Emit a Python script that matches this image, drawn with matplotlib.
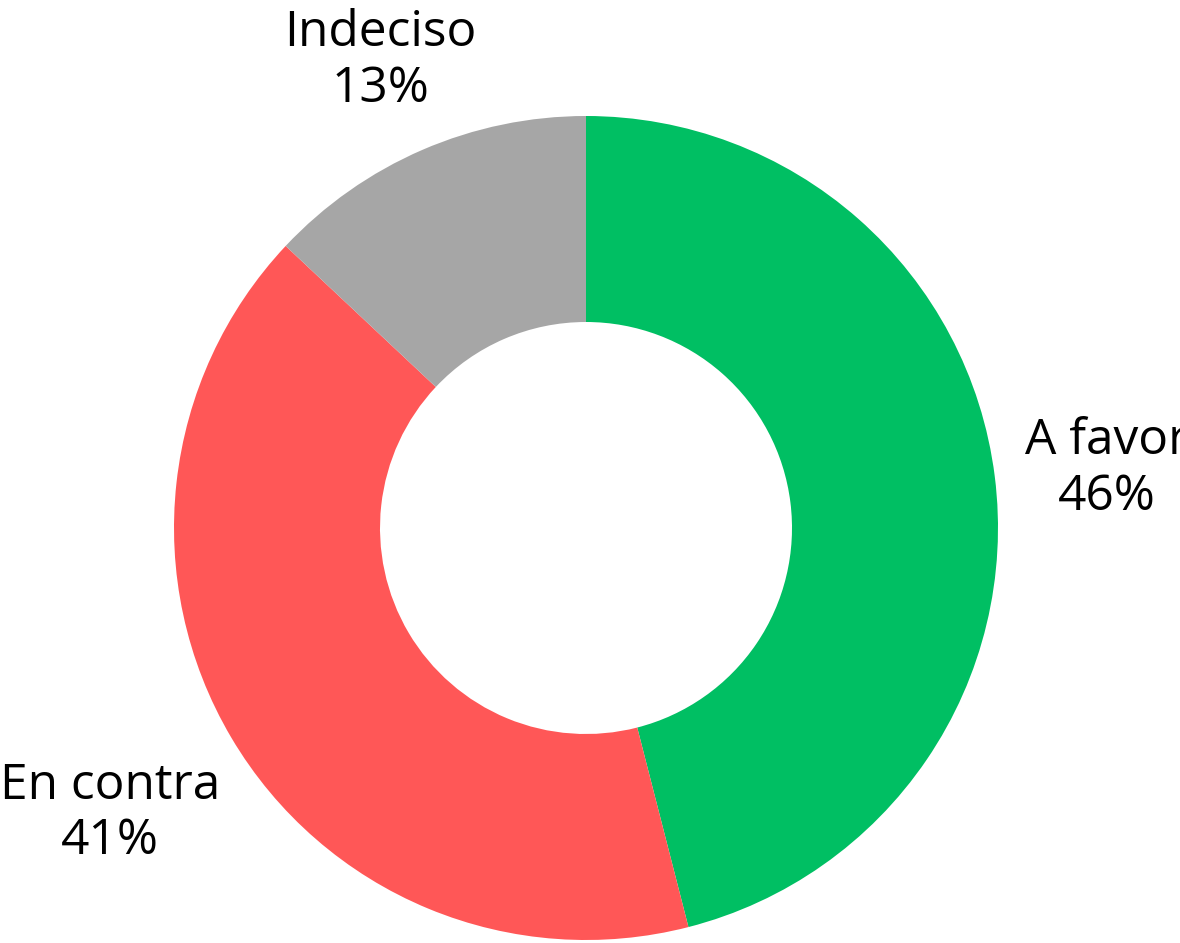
import matplotlib.pyplot as plt

# slice data (clockwise from 12 o'clock)
labels = ["A favor", "En contra", "Indeciso"]
shares = [46, 41, 13]
colors = ["#00BF63", "#FF5757", "#A6A6A6"]

plt.rcParams["font.family"] = ["Open Sans", "DejaVu Sans"]

fig = plt.figure(figsize=(11.8, 9.43), dpi=100)
ax = fig.add_axes([0, 0, 1, 1])

ax.pie(shares, colors=colors, startangle=90, counterclock=False,
       radius=1.0, wedgeprops=dict(width=0.5, linewidth=0))

# label positions in data units (radius = 1)
label_pos = [(1.265, 0.143), (-1.155, -0.694), (-0.50, 1.133)]
for name, val, (x, y) in zip(labels, shares, label_pos):
    ax.text(x, y, f"{name}\n{val}%", ha="center", va="center",
            fontsize=35.7, color="black", linespacing=1.16, clip_on=False)

ax.set_xlim(-586 / 412, (1180 - 586) / 412)
ax.set_ylim(-(943 - 528) / 412, 528 / 412)
ax.set_aspect("equal")
ax.axis("off")

fig.savefig("out.png", dpi=100)
